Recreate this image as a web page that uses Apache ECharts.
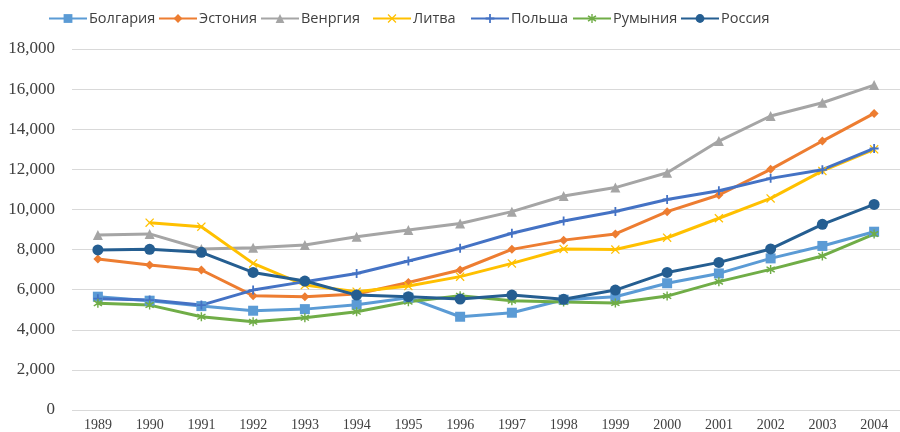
<!DOCTYPE html>
<html>
<head>
    <meta charset="utf-8">
    <title>ECharts</title>
    <script src="https://cdn.jsdelivr.net/npm/echarts@6/dist/echarts.min.js"></script>
</head>
<body style="margin:0">
    <div id="main" style="width: 900px;height:432px;"></div>
    <script type="text/javascript">
    var years = ['1989', '1990', '1991', '1992', '1993', '1994', '1995', '1996',
        '1997', '1998', '1999', '2000', '2001', '2002', '2003', '2004'];
    var names = ['Болгария', 'Эстония', 'Венргия', 'Литва', 'Польша', 'Румыния', 'Россия'];
    var bulgaria = [5650, 5450, 5180, 4950, 5030, 5250, 5600, 4650, 4850, 5500, 5650, 6320, 6810, 7560, 8180, 8890];
    var estonia = [7530, 7230, 6980, 5700, 5650, 5780, 6360, 6980, 8010, 8470, 8780, 9890, 10720, 12000, 13410, 14790];
    var hungary = [8720, 8780, 8030, 8090, 8225, 8640, 8970, 9300, 9890, 10670, 11090, 11830, 13410, 14660, 15320, 16200];
    var lithuania = [null, 9340, 9140, 7310, 6230, 5900, 6180, 6650, 7310, 8030, 8000, 8590, 9560, 10550, 11920, 13000];
    var poland = [5550, 5480, 5230, 5980, 6400, 6810, 7430, 8060, 8810, 9420, 9900, 10500, 10930, 11550, 11980, 13040];
    var romania = [5320, 5230, 4650, 4400, 4600, 4900, 5400, 5700, 5450, 5380, 5330, 5680, 6400, 7010, 7680, 8770];
    var russia = [7980, 8010, 7860, 6860, 6430, 5730, 5650, 5530, 5730, 5520, 5980, 6860, 7360, 8030, 9260, 10250];
    var yTicks = [0, 2000, 4000, 6000, 8000, 10000, 12000, 14000, 16000, 18000];

    var plusPath = 'path://M4,0H6V4H10V6H6V10H4V6H0V4H4Z';
    var crossPath = 'path://M1,0L5,4L9,0L10,1L6,5L10,9L9,10L5,6L1,10L0,9L4,5L0,1Z';
    var starPath = 'path://M4.3,0H5.7V3.3L8.6,1.4L9.4,2.6L6.4,5L9.4,7.4L8.6,8.6L5.7,6.7V10H4.3V6.7L1.4,8.6L0.6,7.4L3.6,5L0.6,2.6L1.4,1.4L4.3,3.3Z';

    function makeSeries(name, data, color, symbol, size) {
        return {
            name: name,
            type: 'line',
            data: data,
            symbol: symbol,
            symbolSize: size,
            connectNulls: false,
            lineStyle: { color: color, width: 3 },
            itemStyle: { color: color },
            emphasis: { disabled: true }
        };
    }

    // excel-like legend: each entry placed on its own
    var legendLeft = [48, 158, 260, 372, 470, 572, 680];
    var legends = names.map(function (n, i) {
        return {
            left: legendLeft[i],
            top: 11,
            padding: 0,
            itemWidth: 38,
            itemHeight: 11,
            textStyle: { fontFamily: 'Open Sans', fontSize: 14.5, color: '#404040', padding: [0, 0, 0, -3] },
            data: [n]
        };
    });

    var myChart = echarts.init(document.getElementById('main'));
    var option = {
        animation: false,
        legend: legends,
        grid: {
            left: 72,
            right: -8,
            top: 49,
            bottom: 22
        },
        xAxis: {
            type: 'category',
            data: years,
            boundaryGap: true,
            axisLine: { show: false },
            axisTick: { show: false },
            axisLabel: { fontFamily: 'Liberation Serif', fontSize: 14, color: '#404040', margin: 8 }
        },
        yAxis: {
            type: 'value',
            min: yTicks[0],
            max: yTicks[yTicks.length - 1],
            interval: 2000,
            axisLine: { show: false },
            axisTick: { show: false },
            splitLine: { lineStyle: { color: '#d9d9d9', width: 1 } },
            axisLabel: {
                fontFamily: 'Liberation Serif',
                fontSize: 17,
                color: '#404040',
                margin: 17,
                formatter: function (v) { return v.toLocaleString('en-US'); }
            }
        },
        series: [
            makeSeries(names[0], bulgaria, '#5B9BD5', 'rect', 10),
            makeSeries(names[1], estonia, '#ED7D31', 'diamond', 9),
            makeSeries(names[2], hungary, '#A5A5A5', 'triangle', 10),
            makeSeries(names[3], lithuania, '#FFC000', crossPath, 9),
            makeSeries(names[4], poland, '#4472C4', plusPath, 9),
            makeSeries(names[5], romania, '#70AD47', starPath, 9),
            makeSeries(names[6], russia, '#255E91', 'circle', 11)
        ]
    };
    myChart.setOption(option);
    </script>
</body>
</html>
